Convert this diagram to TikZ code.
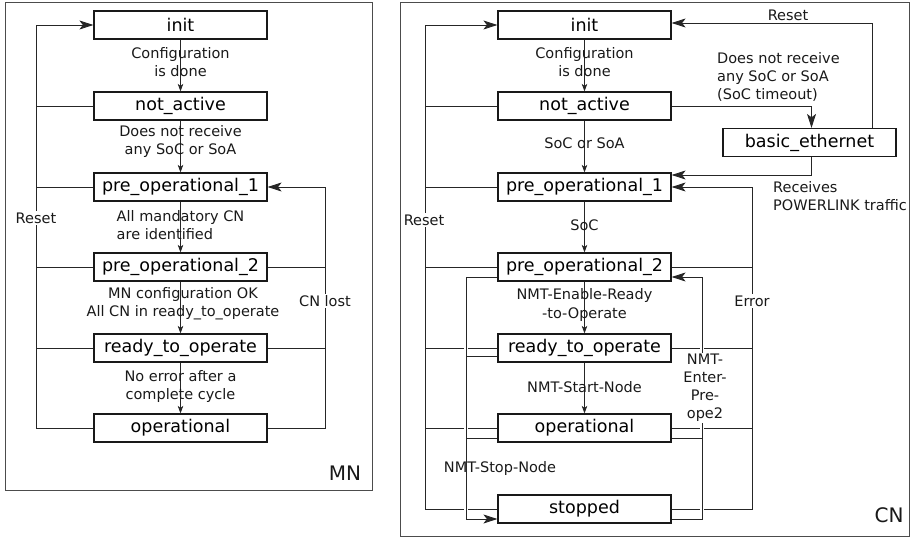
\documentclass[tikz,border=0pt]{standalone}
\usepackage{fontspec}
\setmainfont{DejaVu Sans}
\usetikzlibrary{arrows.meta,calc}

\begin{document}
\begin{tikzpicture}[x=1pt,y=-1pt,
  state/.style={draw=black!90, line width=1.2pt, minimum width=173pt, minimum height=28pt,
    inner sep=0pt, fill=white, font=\fontsize{17.5}{20}\selectfont},
  conn/.style={draw=black!85, line width=0.8pt},
  bigarrow/.style={conn, -{Stealth[length=14pt,width=9pt,inset=3.5pt]}},
  smallarrow/.style={conn, -{Stealth[length=7.5pt,width=5.5pt,inset=2pt]}},
  lbl/.style={font=\fontsize{14.5}{18}\selectfont, align=center, inner sep=0pt, text=black!90},
  sidelbl/.style={lbl, fill=white, inner sep=1.5pt},
  tag/.style={font=\fontsize{20}{24}\selectfont, inner sep=0pt, text=black!90},
  frame/.style={draw=black!70, line width=1pt},
  gap/.style={draw=white, line width=4pt},
]
\useasboundingbox (0,0) rectangle (910,537);

% ---------------- MN state machine ----------------
\draw[frame] (5,3) rectangle (372,490);

\node[state] (mi)  at (180.5,25)  {init};
\node[state] (mna) at (180.5,106) {not\_active};
\node[state] (mp1) at (180.5,187) {pre\_operational\_1};
\node[state] (mp2) at (180.5,267) {pre\_operational\_2};
\node[state] (mr)  at (180.5,348) {ready\_to\_operate};
\node[state] (mo)  at (180.5,428) {operational};

\coordinate (mrst)  at (36,0);
\coordinate (mlost) at (325,0);

% forward transitions
\draw[smallarrow] (mi)  -- (mna);
\draw[smallarrow] (mna) -- (mp1);
\draw[smallarrow] (mp1) -- (mp2);
\draw[smallarrow] (mp2) -- (mr);
\draw[smallarrow] (mr)  -- (mo);

\node[lbl] (lm1) at (180.5,62)  {Configuration\\is done};
\node[lbl] (lm2) at (180.5,142) {Does not receive\\any SoC or SoA};
\node[lbl, align=left] (lm3) at (180.5,225) {All mandatory CN\\are identified};
\node[lbl] (lm4) at (183,304)   {MN configuration OK\\All CN in ready\_to\_operate};
\node[lbl] (lm5) at (180.5,386) {No error after a\\complete cycle};

% reset bus on the left
\draw[bigarrow] (mo.west) -| (mrst |- mi.west) -- (mi.west);
\foreach \s in {mna,mp1,mp2,mr}
  \draw[conn] (\s.west) -- (\s.west -| mrst);
\node[sidelbl] (lmreset) at (36,218) {Reset};

% CN lost bus on the right
\draw[bigarrow] (mo.east) -| (mlost |- mp1.east) -- (mp1.east);
\foreach \s in {mp2,mr}
  \draw[conn] (\s.east) -- (\s.east -| mlost);
\node[sidelbl] (lmlost) at (325,301) {CN lost};

\node[tag] (mn) at (345,473) {MN};

% ---------------- CN state machine ----------------
\draw[frame] (400,3) rectangle (909,536);

\node[state] (ci)  at (584.5,25)  {init};
\node[state] (cna) at (584.5,106) {not\_active};
\node[state] (cp1) at (584.5,187) {pre\_operational\_1};
\node[state] (cp2) at (584.5,267) {pre\_operational\_2};
\node[state] (cr)  at (584.5,348) {ready\_to\_operate};
\node[state] (co)  at (584.5,428) {operational};
\node[state] (cs)  at (584.5,509) {stopped};
\node[state] (cb)  at (809.5,142.5) {basic\_ethernet};

\coordinate (rstL)   at (425,0);
\coordinate (stopL)  at (466,0);
\coordinate (enterR) at (702,0);
\coordinate (errR)   at (752,0);
\coordinate (resetB) at (872,0);

\path ([yshift=-10pt]cp2.west) coordinate (cp2wl)
      ([yshift=-10pt]cs.west)  coordinate (cswl)
      ([yshift=-8.5pt]cr.west) coordinate (crwl)
      ([yshift=-10pt]co.west)  coordinate (cowl)
      ([yshift=-10pt]cp2.east) coordinate (cp2el)
      ([yshift=-10pt]co.east)  coordinate (coel)
      ([yshift=-10pt]cs.east)  coordinate (csel)
      ([yshift=12pt]cp1.east)  coordinate (cp1eh)
      ([yshift=2pt]ci.east)    coordinate (cieh)
      ([xshift=2pt]cb.north)   coordinate (cbn)
      ([xshift=2pt]cb.south)   coordinate (cbs);

% forward transitions
\draw[smallarrow] (ci)  -- (cna);
\draw[smallarrow] (cna) -- (cp1);
\draw[smallarrow] (cp1) -- (cp2);
\draw[smallarrow] (cp2) -- (cr);
\draw[smallarrow] (cr)  -- (co);

\node[lbl] (lc1) at (584.5,62)  {Configuration\\is done};
\node[lbl] (lc2) at (584.5,143) {SoC or SoA};
\node[lbl] (lc3) at (584.5,225) {SoC};
\node[lbl] (lc4) at (584.5,305) {NMT-Enable-Ready\\-to-Operate};
\node[lbl] (lc5) at (584.5,387) {NMT-Start-Node};

% basic ethernet branch
\draw[bigarrow] (cna.east) -| (cbn);
\draw[bigarrow] (cbs) |- (cp1eh);
\draw[bigarrow] (cb.north -| resetB) |- (cieh);
\node[lbl] (lcreset2) at (788,15) {Reset};
\node[lbl, align=left, anchor=west] (lctimeout) at (717,77)
  {Does not receive\\any SoC or SoA\\(SoC timeout)};
\node[lbl, align=left, anchor=west] (lctraffic) at (773,196)
  {Receives\\POWERLINK traffic};

% reset bus on the left
\draw[bigarrow] (cs.west) -| (rstL |- ci.west) -- (ci.west);
\foreach \s in {cna,cp1,cp2,cr,co}
  \draw[conn] (\s.west) -- (\s.west -| rstL);
\node[sidelbl] (lcreset) at (424,220) {Reset};

% error bus on the right
\draw[bigarrow] (cs.east) -| (errR |- cp1.east) -- (cp1.east);
\foreach \s in {cp2,cr,co}
  \draw[conn] (\s.east) -- (\s.east -| errR);
\node[sidelbl] (lcerror) at (752,301) {Error};

% line crossings: break the outer buses under the inner ones
\draw[gap] ($(cp2wl -| stopL)+(0,5)$) -- ($(cswl -| stopL)+(0,-5)$);
\draw[gap] ($(cp2el -| enterR)+(0,5)$) -- ($(csel -| enterR)+(0,-5)$);

% NMT-Stop-Node bus
\draw[bigarrow] (cp2wl) -| (cswl -| stopL) -- (cswl);
\draw[conn] (crwl) -- (crwl -| stopL);
\draw[conn] (cowl) -- (cowl -| stopL);
\node[lbl] (lcstop) at (500,468) {NMT-Stop-Node};

% NMT-Enter-PreOperational2 bus
\draw[bigarrow] (csel) -| (cp2el -| enterR) -- (cp2el);
\draw[conn] (coel) -- (coel -| enterR);
\node[lbl, fill=white, inner sep=1pt] (lcenter) at (705,388) {NMT-\\Enter-\\Pre-\\ope2};

\node[tag] (cn) at (889,515) {CN};
\end{tikzpicture}
\end{document}
